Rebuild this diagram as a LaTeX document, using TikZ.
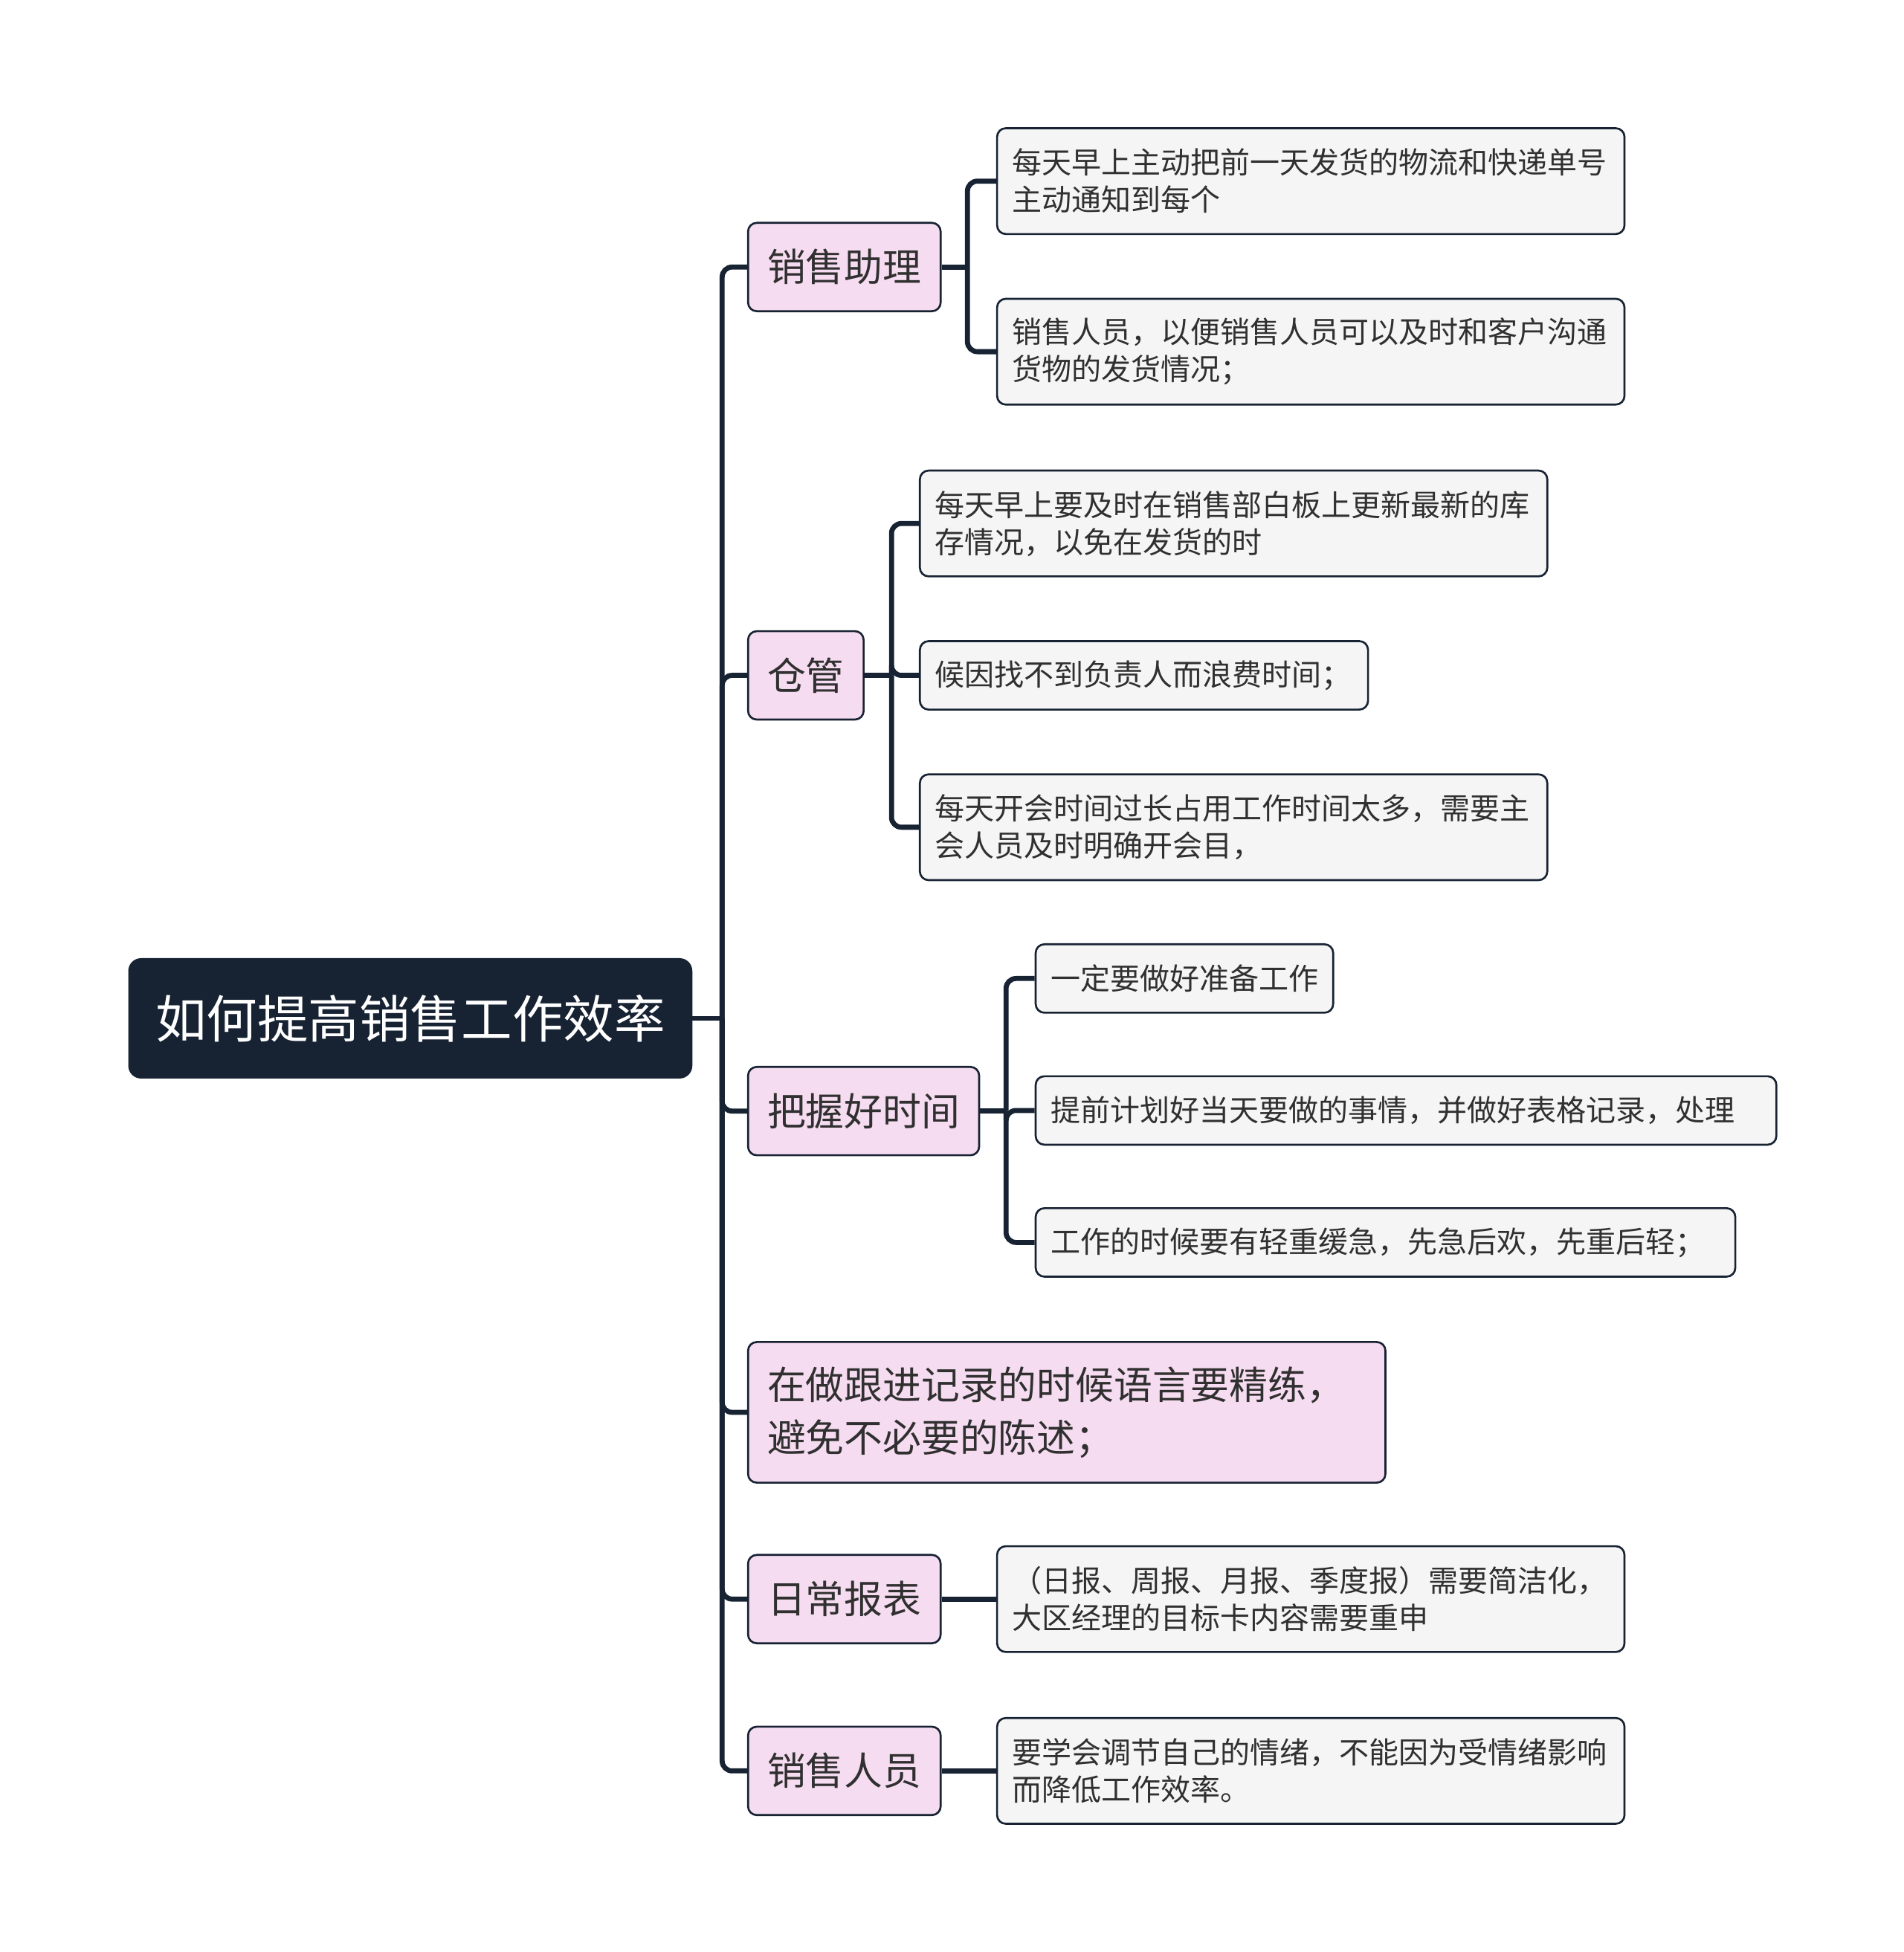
\documentclass[tikz,border=0pt]{standalone}
\usepackage{fontspec}
\usepackage{xcolor}
\newfontfamily\cjk{Noto Sans CJK SC}
\definecolor{navy}{HTML}{172233}
\definecolor{pinkfill}{HTML}{F6DCF0}
\definecolor{leaffill}{HTML}{F5F5F5}
\definecolor{inkgray}{HTML}{303030}

\tikzset{
  root/.style={draw=navy, fill=navy, text=white, rounded corners=0.2cm, inner xsep=0.43cm,
    minimum height=1.92cm, font=\cjk\fontsize{23.3}{28}\selectfont, anchor=west},
  topic/.style={draw=navy, line width=0.9pt, fill=pinkfill, text=inkgray, rounded corners=0.14cm,
    inner xsep=0.31cm, minimum height=1.42cm, font=\cjk\fontsize{17.6}{24}\selectfont, anchor=west},
  leaf/.style={draw=navy, line width=0.9pt, fill=leaffill, text=inkgray, rounded corners=0.14cm,
    inner xsep=0.24cm, inner ysep=0.1cm, minimum height=1.1cm, text width=#1, align=left,
    font=\cjk\fontsize{13.6}{17}\selectfont, anchor=west},
  leaf/.default=9.6cm,
  twoline/.style={minimum height=1.7cm},
  link/.style={draw=navy, line width=2.3pt, rounded corners=0.16cm}
}

\begin{document}
\begin{tikzpicture}[x=0.02cm, y=-0.02cm]
    \useasboundingbox (0,0) rectangle (1529,1568);

    \node[root] (root) at (103,818) {如何提高销售工作效率};

    \node[topic] (zl) at (600,214.5) {销售助理};
    \node[topic] (cg) at (600,542.5) {仓管};
    \node[topic] (sj) at (600,892.5) {把握好时间};
    \node[topic, text width=9.62cm, align=left, minimum height=2.26cm] (jl) at (600,1134.5)
        {在做跟进记录的时候语言要精练，\\避免不必要的陈述；};
    \node[topic] (bb) at (600,1284.5) {日常报表};
    \node[topic] (ry) at (600,1422.5) {销售人员};

    \node[leaf, twoline] (zl1) at (800,145.5) {每天早上主动把前一天发货的物流和快递单号\\主动通知到每个};
    \node[leaf, twoline] (zl2) at (800,282.5) {销售人员，以便销售人员可以及时和客户沟通\\货物的发货情况；};

    \node[leaf, twoline] (cg1) at (738,420.5) {每天早上要及时在销售部白板上更新最新的库\\存情况，以免在发货的时};
    \node[leaf=6.72cm] (cg2) at (738,542.5) {候因找不到负责人而浪费时间；};
    \node[leaf, twoline] (cg3) at (738,664.5) {每天开会时间过长占用工作时间太多，需要主\\会人员及时明确开会目，};

    \node[leaf=4.3cm] (sj1) at (831,786) {一定要做好准备工作};
    \node[leaf=11.42cm] (sj2) at (831,892) {提前计划好当天要做的事情，并做好表格记录，处理};
    \node[leaf=10.76cm] (sj3) at (831,998) {工作的时候要有轻重缓急，先急后欢，先重后轻；};

    \node[leaf, twoline] (bb1) at (800,1284.5) {（日报、周报、月报、季度报）需要简洁化，\\大区经理的目标卡内容需要重申};
    \node[leaf, twoline] (ry1) at (800,1422.5) {要学会调节自己的情绪，不能因为受情绪影响\\而降低工作效率。};

    \coordinate (t0) at (580,818);
    \coordinate (t1) at (777,214.5);
    \coordinate (t2) at (716,542.5);
    \coordinate (t3) at (808,892.5);

    \draw[link] (root.east) -- (t0);
    \foreach \n in {zl,cg,sj,jl,bb,ry}
        \draw[link] (t0) |- (\n.west);

    \draw[link] (zl.east) -- (t1);
    \foreach \n in {zl1,zl2}
        \draw[link] (t1) |- (\n.west);

    \draw[link] (cg.east) -- (t2);
    \foreach \n in {cg1,cg2,cg3}
        \draw[link] (t2) |- (\n.west);

    \draw[link] (sj.east) -- (t3);
    \foreach \n in {sj1,sj2,sj3}
        \draw[link] (t3) |- (\n.west);

    \draw[link] (bb.east) -- (bb1.west);
    \draw[link] (ry.east) -- (ry1.west);
\end{tikzpicture}
\end{document}
